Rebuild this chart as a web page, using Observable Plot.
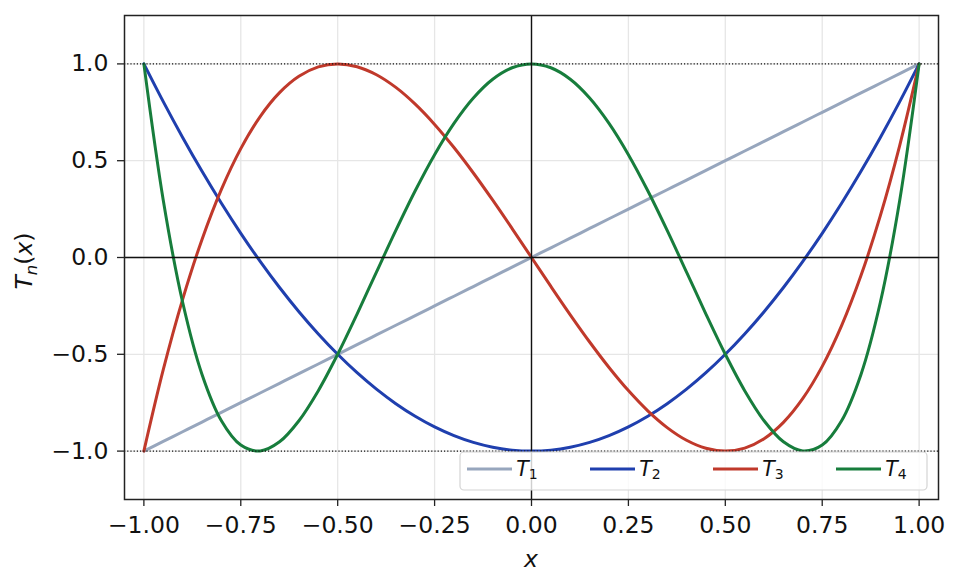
<!DOCTYPE html>
<html><head><meta charset="utf-8">
<script src="https://cdn.jsdelivr.net/npm/d3@7"></script>
<script src="https://cdn.jsdelivr.net/npm/@observablehq/plot@0.6"></script>
<style>
html,body{margin:0;padding:0;background:#fff;}
#chart{position:relative;width:961px;height:588px;}
</style></head><body><div id="chart"></div>
<script>
// x sample positions
const xs = [-1, -0.95, -0.9, -0.85, -0.8, -0.75, -0.7, -0.65, -0.6, -0.55, -0.5, -0.45, -0.4, -0.35, -0.3, -0.25, -0.2, -0.15, -0.1, -0.05,
  0, 0.05, 0.1, 0.15, 0.2, 0.25, 0.3, 0.35, 0.4, 0.45, 0.5, 0.55, 0.6, 0.65, 0.7, 0.75, 0.8, 0.85, 0.9, 0.95, 1];
// series values
const t1 = [-1, -0.95, -0.9, -0.85, -0.8, -0.75, -0.7, -0.65, -0.6, -0.55, -0.5, -0.45, -0.4, -0.35, -0.3, -0.25, -0.2, -0.15, -0.1, -0.05,
  0, 0.05, 0.1, 0.15, 0.2, 0.25, 0.3, 0.35, 0.4, 0.45, 0.5, 0.55, 0.6, 0.65, 0.7, 0.75, 0.8, 0.85, 0.9, 0.95, 1];
const t2 = [1, 0.805, 0.62, 0.445, 0.28, 0.125, -0.02, -0.155, -0.28, -0.395, -0.5, -0.595, -0.68, -0.755, -0.82, -0.875, -0.92, -0.955, -0.98, -0.995,
  -1, -0.995, -0.98, -0.955, -0.92, -0.875, -0.82, -0.755, -0.68, -0.595, -0.5, -0.395, -0.28, -0.155, -0.02, 0.125, 0.28, 0.445, 0.62, 0.805, 1];
const t3 = [-1, -0.5795, -0.216, 0.0935, 0.352, 0.5625, 0.728, 0.8515, 0.936, 0.9845, 1, 0.9855, 0.944, 0.8785, 0.792, 0.6875, 0.568, 0.4365, 0.296, 0.1495,
  0, -0.1495, -0.296, -0.4365, -0.568, -0.6875, -0.792, -0.8785, -0.944, -0.9855, -1, -0.9845, -0.936, -0.8515, -0.728, -0.5625, -0.352, -0.0935, 0.216, 0.5795, 1];
const t4 = [1, 0.296, -0.2312, -0.604, -0.8432, -0.96875, -0.9992, -0.952, -0.8432, -0.688, -0.5, -0.292, -0.0752, 0.14, 0.3448, 0.53125, 0.6928, 0.824, 0.9208, 0.98,
  1, 0.98, 0.9208, 0.824, 0.6928, 0.53125, 0.3448, 0.14, -0.0752, -0.292, -0.5, -0.688, -0.8432, -0.952, -0.9992, -0.96875, -0.8432, -0.604, -0.2312, 0.296, 1];

const seriesNames = ["T1", "T2", "T3", "T4"];
const seriesSubs = ["1", "2", "3", "4"];
const seriesColors = ["#97a6bd", "#1f3fae", "#c0392b", "#177d3c"];
const xTicks = [-1, -0.75, -0.5, -0.25, 0, 0.25, 0.5, 0.75, 1];
const yTicks = [-1, -0.5, 0, 0.5, 1];
const refLines = [-1, 1];
const zeroLine = [0];

const data = [];
[t1, t2, t3, t4].forEach((vals, i) => vals.forEach((v, j) => data.push({x: xs[j], y: v, s: seriesNames[i]})));

const font = "'DejaVu Sans', sans-serif";
const W = 961, H = 588, mL = 124, mR = 23, mT = 15, mB = 89;

const plot = Plot.plot({
  width: W, height: H,
  marginLeft: mL, marginRight: mR, marginTop: mT, marginBottom: mB,
  style: {fontFamily: font, fontSize: "23.5px", color: "#111", background: "#fff", overflow: "visible"},
  x: {domain: [-1.05, 1.05]},
  y: {domain: [-1.25, 1.25]},
  color: {domain: seriesNames, range: seriesColors},
  marks: [
    Plot.gridX(xTicks, {stroke: "#e6e6e6", strokeOpacity: 1, strokeWidth: 1.3}),
    Plot.gridY(yTicks, {stroke: "#e6e6e6", strokeOpacity: 1, strokeWidth: 1.3}),
    Plot.line(data, {x: "x", y: "y", z: "s", stroke: "s", strokeWidth: 3, curve: "catmull-rom"}),
    Plot.ruleY(refLines, {stroke: "#111", strokeWidth: 1.1, strokeDasharray: "1.2,2"}),
    Plot.ruleY(zeroLine, {stroke: "#111", strokeWidth: 1.4}),
    Plot.ruleX(zeroLine, {stroke: "#111", strokeWidth: 1.4}),
    Plot.frame({stroke: "#222", strokeWidth: 1.5}),
    Plot.axisX(xTicks, {tickFormat: d3.format(".2f"), tickSize: 7, tickPadding: 10, label: null, stroke: "#222", strokeWidth: 1.3}),
    Plot.axisY(yTicks, {tickFormat: d3.format(".1f"), tickSize: 7, tickPadding: 9, label: null, stroke: "#222", strokeWidth: 1.3})
  ]
});
document.getElementById("chart").appendChild(plot);

const svg = d3.select(plot);
// x axis label
svg.append("text").attr("x", (mL + W - mR) / 2).attr("y", 567)
  .attr("text-anchor", "middle").attr("font-family", font).attr("font-size", 23.5)
  .attr("font-style", "italic").attr("fill", "#111").text("x");
// y axis label T_n(x)
const yl = svg.append("text").attr("transform", `translate(32,${(mT + H - mB) / 2 + 4}) rotate(-90)`)
  .attr("text-anchor", "middle").attr("font-family", font).attr("font-size", 23.5).attr("fill", "#111");
yl.append("tspan").attr("font-style", "italic").text("T");
yl.append("tspan").attr("font-style", "italic").attr("font-size", 16.5).attr("dy", 5).text("n");
yl.append("tspan").attr("dy", -5).text("(");
yl.append("tspan").attr("font-style", "italic").text("x");
yl.append("tspan").text(")");

// legend
const lg = svg.append("g");
lg.append("rect").attr("x", 460).attr("y", 452).attr("width", 467).attr("height", 38).attr("rx", 4)
  .attr("fill", "#fff").attr("fill-opacity", 0.8).attr("stroke", "#d4d4d4").attr("stroke-width", 1.2);
seriesNames.forEach((name, i) => {
  const ox = 467 + i * 123;
  lg.append("line").attr("x1", ox).attr("x2", ox + 45).attr("y1", 469).attr("y2", 469)
    .attr("stroke", seriesColors[i]).attr("stroke-width", 3);
  const t = lg.append("text").attr("x", ox + 60).attr("y", 476).attr("font-family", font)
    .attr("font-size", 20.5).attr("fill", "#111");
  t.append("tspan").attr("font-style", "italic").text("T");
  t.append("tspan").attr("font-size", 14).attr("dy", 3).text(seriesSubs[i]);
});
</script>
</body></html>
